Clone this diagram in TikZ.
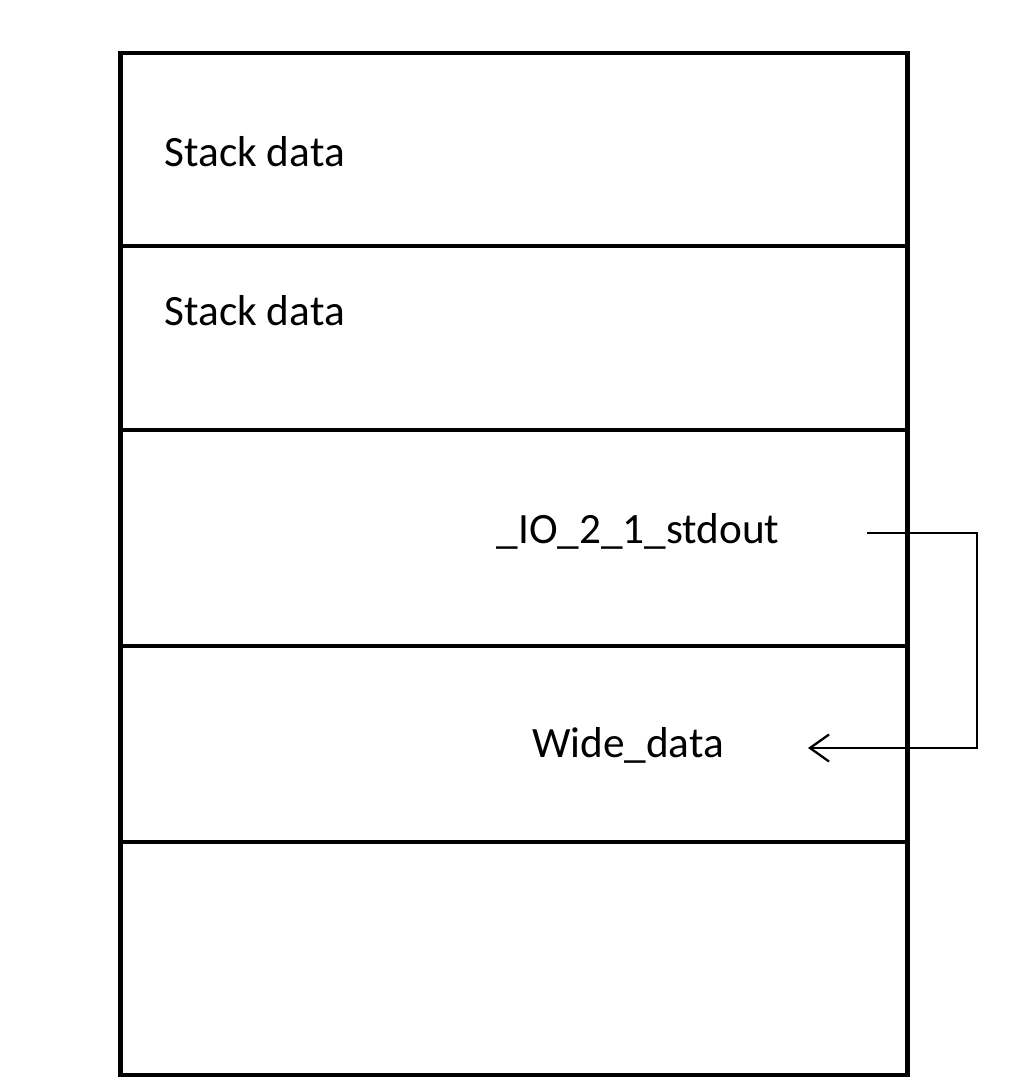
\documentclass[tikz,border=0pt]{standalone}
\usepackage{fontspec}
\setmainfont{Carlito}
\usetikzlibrary{arrows.meta}

\begin{document}
\begin{tikzpicture}[
    x=0.01cm, y=-0.01cm,
    font=\fontsize{12.3}{14}\selectfont,
    cell/.style={draw, rectangle, line width=1.3pt, minimum width=7.86cm, inner sep=0pt, outer sep=0pt},
    label/.style={inner sep=0pt},
    link/.style={line width=0.65pt, -{Straight Barb[length=0.19cm, width=0.27cm, line width=0.65pt]}}
  ]
    \useasboundingbox (0,0) rectangle (1016,1092);
    % memory rows
    \node[cell, minimum height=1.93cm] (row1) at (514,149.5) {};
    \node[cell, minimum height=1.84cm] (row2) at (514,338) {};
    \node[cell, minimum height=2.16cm] (row3) at (514,538) {};
    \node[cell, minimum height=1.96cm] (row4) at (514,744) {};
    \node[cell, minimum height=2.33cm] (row5) at (514,958.5) {};
    % labels
    \node[label, anchor=base west] (stack1) at (164,167) {Stack data};
    \node[label, anchor=base west] (stack2) at (164,326) {Stack data};
    \node[label, anchor=base] (stdout) at (638,544) {\_IO\_2\_1\_stdout};
    \node[label, anchor=base] (wide) at (628,757) {Wide\_data};
    % pointer
    \coordinate (src) at (867,533);
    \coordinate (dst) at (808,748);
    \draw[link] (src) -- (977,533) |- (dst);
  \end{tikzpicture}
\end{document}
